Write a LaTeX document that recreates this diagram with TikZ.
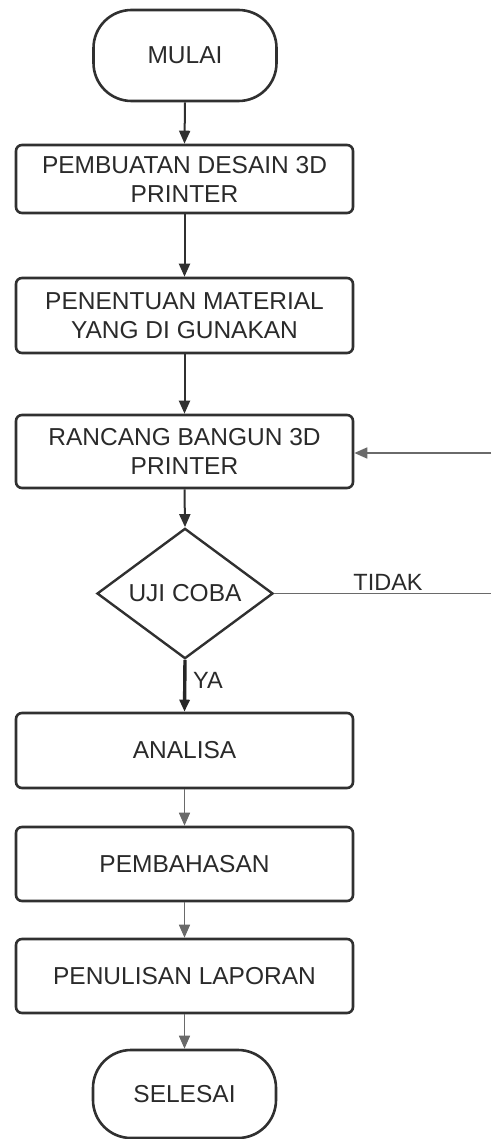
\documentclass[tikz,border=0pt]{standalone}
\usepackage{fontspec}
\setmainfont{Liberation Sans}
\usetikzlibrary{shapes.geometric,arrows.meta}
\definecolor{ink}{HTML}{303030}
\definecolor{txt}{HTML}{2A2A2A}
\definecolor{grayline}{HTML}{6A6A6A}
\tikzset{
  procbox/.style={draw=ink, line width=2.6pt, rounded corners=6pt, minimum width=337pt, inner sep=0pt, align=center, text=txt, font=\fontsize{24.5}{29}\selectfont},
  termbox/.style={draw=ink, line width=2.6pt, rounded corners=38pt, minimum width=183pt, inner sep=0pt, text=txt, font=\fontsize{24.5}{29}\selectfont},
  decbox/.style={diamond, draw=ink, line width=2.4pt, minimum width=176pt, minimum height=129pt, inner sep=0pt, text=txt, font=\fontsize{24.5}{29}\selectfont},
  darkarrow/.style={draw=ink, line width=2pt, -{Triangle[length=13pt,width=11pt]}},
  yaarrow/.style={draw=black!85, line width=3.4pt, -{Triangle[length=12pt,width=10pt]}},
  greyarrow/.style={draw=grayline, line width=1.6pt, -{Triangle[length=13pt,width=11pt]}},
  greyline/.style={draw=grayline, line width=1.6pt},
  lbl/.style={text=txt, inner sep=0pt, font=\fontsize{23.5}{28}\selectfont}
}
\begin{document}
\begin{tikzpicture}[x=1pt,y=-1pt]
\useasboundingbox (0,0) rectangle (491,1139);
\node[termbox, minimum height=91pt] (start) at (185,55.5) {MULAI};
\node[procbox, minimum height=68pt] (b1) at (184.5,179) {PEMBUATAN DESAIN 3D\\PRINTER};
\node[procbox, minimum height=75pt] (b2) at (184.5,315.5) {PENENTUAN MATERIAL\\YANG DI GUNAKAN};
\node[procbox, minimum height=73pt] (b3) at (184.5,451.5) {RANCANG BANGUN 3D\\PRINTER};
\node[decbox] (d) at (185,593.5) {UJI COBA};
\node[procbox, minimum height=75pt] (b4) at (184.5,750.5) {ANALISA};
\node[procbox, minimum height=74pt] (b5) at (184.5,864) {PEMBAHASAN};
\node[procbox, minimum height=74pt] (b6) at (184.5,976) {PENULISAN LAPORAN};
\node[termbox, minimum height=88pt] (end) at (184.5,1094) {SELESAI};
\coordinate (rt) at (491,593.5);
\coordinate (rb) at (491,453);
\draw[darkarrow] (start.south) -- (b1.north);
\draw[darkarrow] (b1.south) -- (b2.north);
\draw[darkarrow] (b2.south) -- (b3.north);
\draw[darkarrow] (b3.south) -- (d.north);
\draw[yaarrow] (d.south) -- (b4.north);
\draw[greyarrow] (b4.south) -- (b5.north);
\draw[greyarrow] (b5.south) -- (b6.north);
\draw[greyarrow] (b6.south) -- (end.north);
\draw[greyline] (d.east) -- (rt);
\draw[greyarrow] (rb) -- (rb -| b3.east);
\node[lbl] (tidak) at (388,582) {TIDAK};
\node[lbl] (ya) at (208,680) {YA};
\end{tikzpicture}
\end{document}
